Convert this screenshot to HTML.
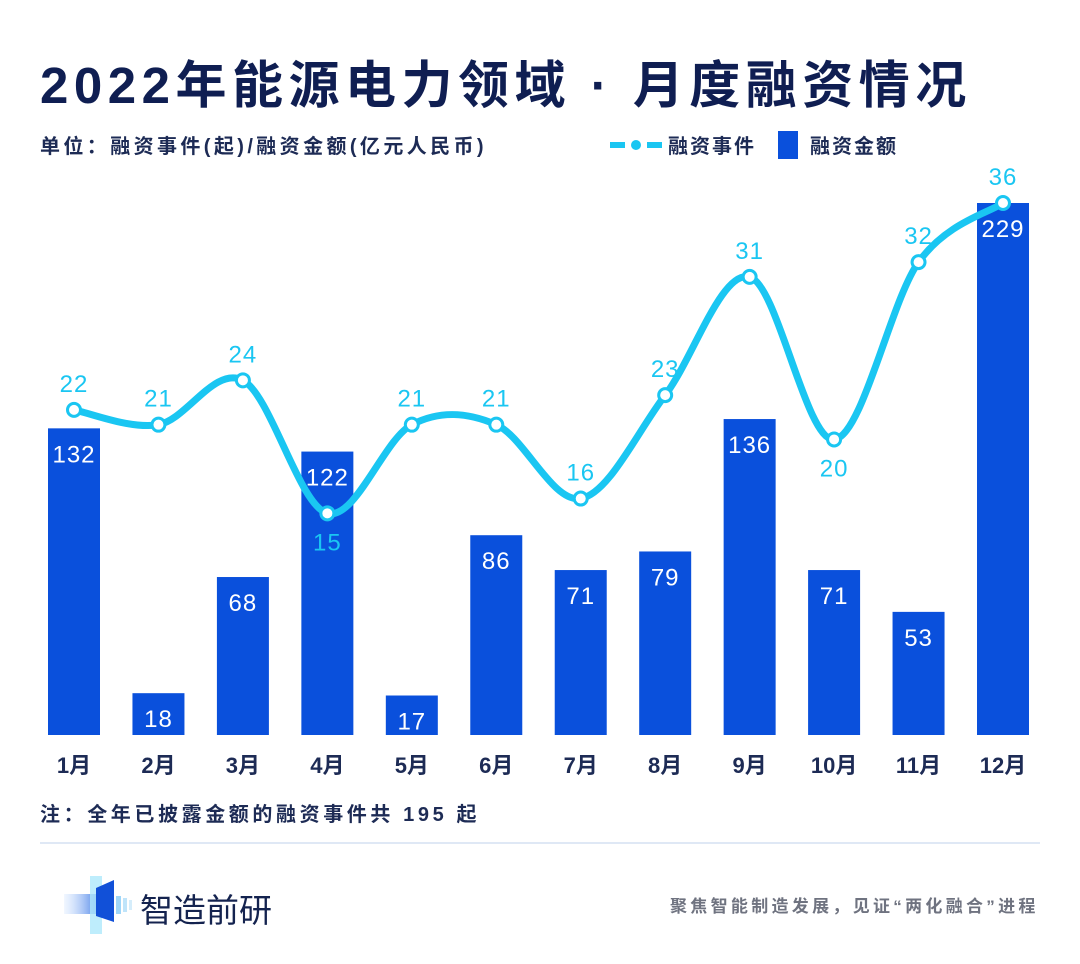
<!DOCTYPE html>
<html><head><meta charset="utf-8"><style>
body{margin:0;background:#fff;width:1080px;height:964px;overflow:hidden;font-family:"Liberation Sans","Noto Sans CJK SC",sans-serif;color:#14234f}
.abs{position:absolute;white-space:nowrap}
</style></head><body>
<div class="abs" style="left:40px;top:44px;font-size:51px;font-weight:bold;color:#0f1e52;letter-spacing:5.5px">2022年能源电力领域 · 月度融资情况</div>
<div class="abs" style="left:40px;top:130px;font-size:20px;font-weight:bold;color:#1d2b55;letter-spacing:3.4px">单位：融资事件(起)/融资金额(亿元人民币)</div>
<div class="abs" style="left:610px;top:130px;font-size:20px;font-weight:bold;color:#1d2b55;display:flex;align-items:center;letter-spacing:2px">
<svg width="52" height="14"><rect x="0" y="4" width="15" height="6" fill="#1ac6f2"/><circle cx="26" cy="7" r="5" fill="#1ac6f2"/><rect x="37" y="4" width="15" height="6" fill="#1ac6f2"/></svg><span style="margin-left:6px">融资事件</span></div>
<div class="abs" style="left:778px;top:130px;font-size:20px;font-weight:bold;color:#1d2b55;display:flex;align-items:center;letter-spacing:2px">
<div style="width:20px;height:28px;background:#0a50dc"></div><span style="margin-left:12px">融资金额</span></div>
<svg class="abs" style="left:0;top:0" width="1080" height="800" id="chart"></svg>
<div class="abs" style="left:40px;top:798px;font-size:20px;font-weight:bold;color:#1d2b55;letter-spacing:3.6px">注：全年已披露金额的融资事件共 195 起</div>
<div class="abs" style="left:40px;top:842px;width:1000px;height:2px;background:#dfe8f5"></div>
<svg class="abs" style="left:62px;top:874px" width="72" height="62">
<defs><linearGradient id="lg" x1="0" x2="1"><stop offset="0" stop-color="#cfe3ff" stop-opacity="0.3"/><stop offset="1" stop-color="#1a5fe0"/></linearGradient></defs>
<rect x="2" y="20" width="40" height="20" fill="url(#lg)"/>
<rect x="28" y="2" width="12" height="58" fill="#aee9fb" opacity="0.8"/>
<polygon points="34,14 52,6 52,48 34,42" fill="#1150d8"/>
<rect x="54" y="22" width="5" height="18" fill="#9fd6f8"/><rect x="61" y="24" width="4" height="14" fill="#bfe4fa"/><rect x="67" y="26" width="3" height="10" fill="#d5edfb"/>
</svg>
<div class="abs" style="left:140px;top:884px;font-size:33px;color:#14234f">智造前研</div>
<div class="abs" style="left:670px;top:892px;font-size:17px;color:#6f7380;font-weight:bold;letter-spacing:3.3px">聚焦智能制造发展，见证“两化融合”进程</div>
<script>
const months=["1月","2月","3月","4月","5月","6月","7月","8月","9月","10月","11月","12月"];
const amounts=[132,18,68,122,17,86,71,79,136,71,53,229];
const events=[22,21,24,15,21,21,16,23,31,20,32,36];
const svg=document.getElementById('chart');const NS="http://www.w3.org/2000/svg";
const base=735,x0=74,step=(1003-74)/11;
const xs=i=>x0+i*step;
const yA=v=>base-v*(532/229);
const yE=v=>base-v*(532/36);
function mk(t,a){const e=document.createElementNS(NS,t);for(const k in a)e.setAttribute(k,a[k]);svg.appendChild(e);return e;}
amounts.forEach((v,i)=>{
 const r=mk('rect',{x:xs(i)-26,y:yA(v),width:52,height:base-yA(v),fill:'#0a50dc'});
 
 
 const t=mk('text',{x:xs(i),y:yA(v)+34,'text-anchor':'middle','font-size':24,fill:'#fff','letter-spacing':1});t.textContent=v;
 
 
 const m=mk('text',{x:xs(i),y:773,'text-anchor':'middle','font-size':22,'font-weight':'bold',fill:'#1d2b55'});m.textContent=months[i];
 
 
});
const P=events.map((v,i)=>[xs(i),yE(v)]);
let d='M'+P[0][0]+','+P[0][1];
for(let i=0;i<P.length-1;i++){const p0=P[Math.max(0,i-1)],p1=P[i],p2=P[i+1],p3=P[Math.min(P.length-1,i+2)];const k=1/6;
d+=` C${p1[0]+(p2[0]-p0[0])*k},${p1[1]+(p2[1]-p0[1])*k} ${p2[0]-(p3[0]-p1[0])*k},${p2[1]-(p3[1]-p1[1])*k} ${p2[0]},${p2[1]}`;}
const line=mk('path',{d:d,fill:'none',stroke:'#1ac6f2','stroke-width':7,'stroke-linecap':'round'});


events.forEach((v,i)=>{
 const c=mk('circle',{cx:P[i][0],cy:P[i][1],r:6.5,fill:'#fff',stroke:'#1ac6f2','stroke-width':3});
 
 
 const below=(v===15||v===20);
 const t=mk('text',{x:P[i][0],y:below?P[i][1]+37:P[i][1]-18,'text-anchor':'middle','font-size':24,fill:'#1ac6f2','letter-spacing':1});t.textContent=v;
 
 
});
</script>
</body></html>
